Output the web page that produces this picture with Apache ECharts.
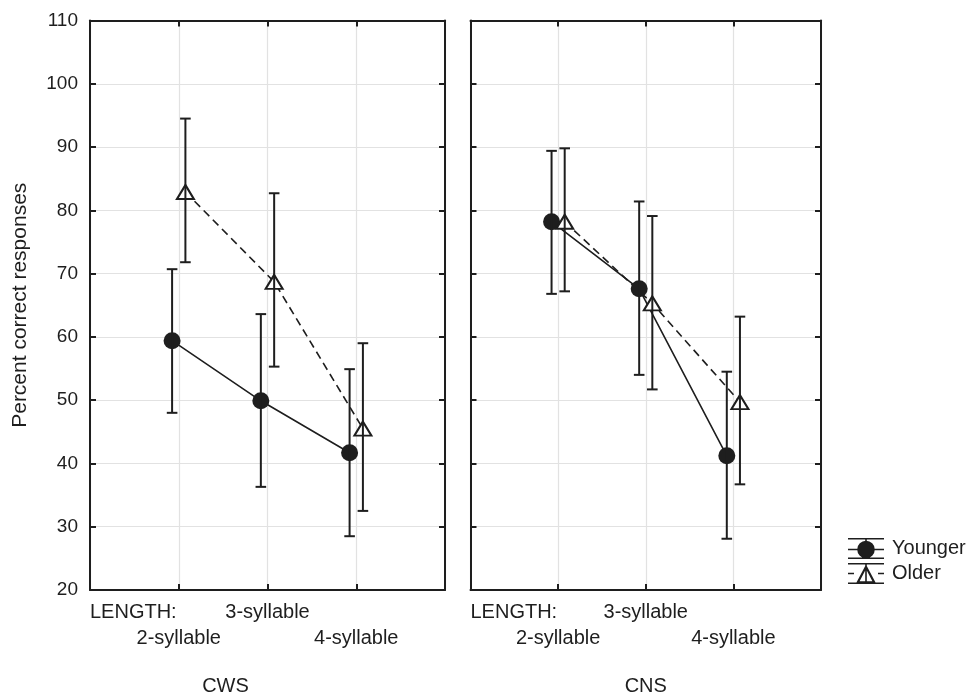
<!DOCTYPE html>
<html>
<head>
<meta charset="utf-8">
<script src="https://cdn.jsdelivr.net/npm/echarts@6/dist/echarts.min.js"></script>
<style>
  html, body { margin: 0; padding: 0; background: #fff; }
  #chart { width: 969px; height: 694px; }
</style>
</head>
<body>
<div id="chart"></div>
<script>
// data
const categories = ['2-syllable', '3-syllable', '4-syllable']
const yTicks = [20, 30, 40, 50, 60, 70, 80, 90, 100, 110]
const groups = ['CWS', 'CNS']

const cwsYounger = [59.4, 49.9, 41.7]
const cwsYoungerLow = [48.0, 36.3, 28.5]
const cwsYoungerHigh = [70.7, 63.6, 54.9]
const cwsOlder = [82.9, 68.7, 45.5]
const cwsOlderLow = [71.8, 55.3, 32.5]
const cwsOlderHigh = [94.5, 82.7, 59.0]

const cnsYounger = [78.2, 67.6, 41.2]
const cnsYoungerLow = [66.8, 54.0, 28.1]
const cnsYoungerHigh = [89.4, 81.4, 54.5]
const cnsOlder = [78.2, 65.3, 49.7]
const cnsOlderLow = [67.2, 51.7, 36.7]
const cnsOlderHigh = [89.8, 79.1, 63.2]

const ink = '#1e1e1e'
const font = 'Liberation Sans, Arial, sans-serif'
const shift = { Younger: -0.075, Older: 0.075 }

// legend glyphs: mean marker with error-bar caps
const youngerIcon = 'path://M0,0H36V1.6H0Z M0,19.4H36V21H0Z M0,10.7H36V12.3H0Z M17.2,0H18.8V21H17.2Z ' +
  'M26.8,11.5A8.8,8.8 0 1 1 9.2,11.5A8.8,8.8 0 1 1 26.8,11.5Z'
const olderIcon = 'path://M0,0H36V1.6H0Z M0,19.4H36V21H0Z M17.2,0H18.8V21H17.2Z M0,9.7H6V11.3H0Z M30,9.7H36V11.3H30Z ' +
  'M18,1.6L27.8,20L8.2,20Z M18,6L11.6,18.2L24.4,18.2Z'

const chart = echarts.init(document.getElementById('chart'))

function points(vals, who) {
  return vals.map((v, i) => [i + 1 + shift[who], v])
}
function bars(low, high, who) {
  return low.map((l, i) => [i + 1 + shift[who], l, high[i]])
}

function errorBar(params, api) {
  const x = api.value(0)
  const lo = api.coord([x, api.value(1)])
  const hi = api.coord([x, api.value(2)])
  const w = 5.3
  const st = { stroke: ink, lineWidth: 2 }
  return {
    type: 'group',
    children: [
      { type: 'line', shape: { x1: lo[0], y1: lo[1], x2: hi[0], y2: hi[1] }, style: st },
      { type: 'line', shape: { x1: lo[0] - w, y1: lo[1], x2: lo[0] + w, y2: lo[1] }, style: st },
      { type: 'line', shape: { x1: hi[0] - w, y1: hi[1], x2: hi[0] + w, y2: hi[1] }, style: st }
    ]
  }
}

const grids = [
  { left: 90, top: 20.5, width: 355, height: 569.5, outerBoundsMode: 'none' },
  { left: 470.5, top: 20.5, width: 350.5, height: 569.5, outerBoundsMode: 'none' }
]

const frameLine = { onZero: false, lineStyle: { color: ink, width: 2 } }
const innerTick = { show: true, inside: true, length: 6, lineStyle: { color: ink, width: 2 } }
const labelText = { color: ink, fontFamily: font, fontSize: 20, margin: 12 }

const xAxes = []
const yAxes = []
grids.forEach((g, gi) => {
  // bottom frame, first label row
  xAxes.push({
    type: 'value', gridIndex: gi, min: 0, max: 4, interval: 1, position: 'bottom',
    axisLine: frameLine,
    axisTick: innerTick,
    splitLine: { show: true, lineStyle: { color: '#e2e2e2', width: 1.2 } },
    axisLabel: Object.assign({
      showMinLabel: true, showMaxLabel: true, hideOverlap: false, alignMinLabel: 'left',
      formatter: v => (v === 0 ? 'LENGTH:' : v === 2 ? categories[1] : '')
    }, labelText),
    name: groups[gi], nameLocation: 'middle', nameGap: 86,
    nameTextStyle: {
      color: ink, fontFamily: font, fontSize: 20,
      padding: gi === 0 ? [0, 84, 0, 0] : [0, 0, 0, 0]
    }
  })
  // top frame
  xAxes.push({
    type: 'value', gridIndex: gi, min: 0, max: 4, interval: 1, position: 'top',
    axisLine: frameLine,
    axisTick: innerTick,
    splitLine: { show: false }, axisLabel: { show: false }
  })
  // second label row
  xAxes.push({
    type: 'value', gridIndex: gi, min: 0, max: 4, interval: 1, position: 'bottom', offset: 26,
    axisLine: { show: false }, axisTick: { show: false }, splitLine: { show: false },
    axisLabel: Object.assign({
      hideOverlap: false,
      formatter: v => (v === 1 ? categories[0] : v === 3 ? categories[2] : '')
    }, labelText)
  })
  yAxes.push({
    type: 'value', gridIndex: gi, min: yTicks[0], max: yTicks[yTicks.length - 1], interval: 10,
    position: 'left',
    axisLine: Object.assign({ show: true }, frameLine),
    axisTick: innerTick,
    splitLine: { show: true, lineStyle: { color: '#e2e2e2', width: 1.2 } },
    axisLabel: { show: gi === 0, color: ink, fontFamily: font, fontSize: 19, margin: 12 },
    name: gi === 0 ? 'Percent correct responses' : '',
    nameLocation: 'middle', nameGap: 59,
    nameTextStyle: { color: ink, fontFamily: font, fontSize: 21 }
  })
  yAxes.push({
    type: 'value', gridIndex: gi, min: yTicks[0], max: yTicks[yTicks.length - 1], interval: 10,
    position: 'right',
    axisLine: Object.assign({ show: true }, frameLine),
    axisTick: innerTick,
    splitLine: { show: false }, axisLabel: { show: false }
  })
})

const panels = [
  { y: cwsYounger, yl: cwsYoungerLow, yh: cwsYoungerHigh, o: cwsOlder, ol: cwsOlderLow, oh: cwsOlderHigh },
  { y: cnsYounger, yl: cnsYoungerLow, yh: cnsYoungerHigh, o: cnsOlder, ol: cnsOlderLow, oh: cnsOlderHigh }
]

const series = []
panels.forEach((p, gi) => {
  const xi = gi * 3
  const yi = gi * 2
  series.push({
    name: 'Younger', type: 'line', xAxisIndex: xi, yAxisIndex: yi,
    data: points(p.y, 'Younger'),
    symbol: 'circle', symbolSize: 17,
    lineStyle: { color: ink, width: 1.6, type: 'solid' },
    itemStyle: { color: ink },
    z: 3
  })
  series.push({
    name: 'Older', type: 'line', xAxisIndex: xi, yAxisIndex: yi,
    data: points(p.o, 'Older'),
    symbol: 'triangle', symbolSize: [17, 14],
    lineStyle: { color: ink, width: 1.6, type: [8, 5] },
    itemStyle: { color: '#fff', borderColor: ink, borderWidth: 2 },
    z: 3
  })
  series.push({
    type: 'custom', xAxisIndex: xi, yAxisIndex: yi,
    data: bars(p.yl, p.yh, 'Younger'), renderItem: errorBar, z: 4, silent: true
  })
  series.push({
    type: 'custom', xAxisIndex: xi, yAxisIndex: yi,
    data: bars(p.ol, p.oh, 'Older'), renderItem: errorBar, z: 4, silent: true
  })
})

chart.setOption({
  animation: false,
  backgroundColor: '#fff',
  grid: grids,
  xAxis: xAxes,
  yAxis: yAxes,
  legend: {
    data: [
      { name: 'Younger', icon: youngerIcon, itemStyle: { color: ink, borderWidth: 0 } },
      { name: 'Older', icon: olderIcon, itemStyle: { color: ink, borderWidth: 0 } }
    ],
    orient: 'vertical',
    left: 843, top: 533,
    itemWidth: 36, itemHeight: 21, itemGap: 4,
    textStyle: { color: ink, fontFamily: font, fontSize: 20, padding: [0, 0, 0, 3] },
    selectedMode: false
  },
  series: series
})
</script>
</body>
</html>
